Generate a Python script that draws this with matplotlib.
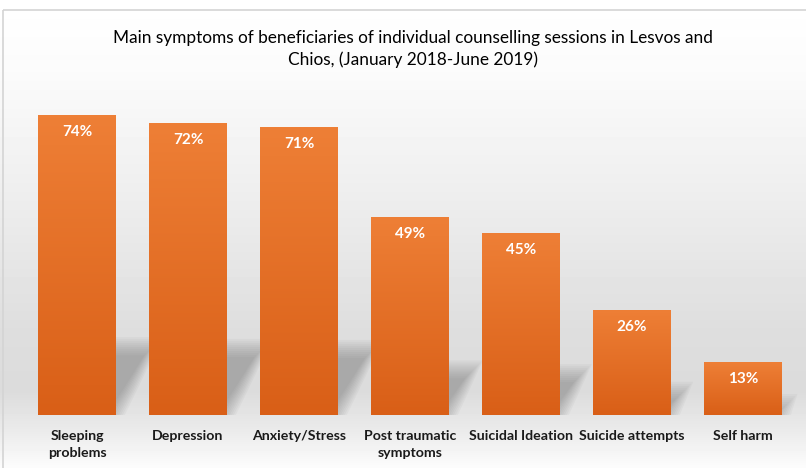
import numpy as np
import matplotlib
matplotlib.use("Agg")
import matplotlib.pyplot as plt
from matplotlib.patches import Rectangle, Polygon

categories = ["Sleeping\nproblems", "Depression", "Anxiety/Stress", "Post traumatic\nsymptoms",
              "Suicidal Ideation", "Suicide attempts", "Self harm"]
values = [74, 72, 71, 49, 45, 26, 13]
value_labels = ["74%", "72%", "71%", "49%", "45%", "26%", "13%"]
title = "Main symptoms of beneficiaries of individual counselling sessions in Lesvos and\nChios, (January 2018-June 2019)"

plt.rcParams["font.family"] = ["Lato", "DejaVu Sans"]

W, H = 806, 468
fig = plt.figure(figsize=(W / 100, H / 100), dpi=100)

# background gradient (white at top, light gray behind the bars, white at bottom)
bg = fig.add_axes([0, 0, 1, 1], zorder=0)
rows = np.arange(H)
shade = np.interp(rows, [0, 70, 200, 330, 390, 430, 468], [1.0, 0.985, 0.93, 0.87, 0.86, 0.92, 0.99])
img = np.repeat(shade[:, None], 2, axis=1)
bg.imshow(img, cmap="gray", vmin=0, vmax=1, aspect="auto", extent=[0, W, H, 0])
bg.add_patch(Rectangle((3, 10), W + 10, H, fill=False, edgecolor="#d4d4d4", lw=1.2))
bg.set_xlim(0, W)
bg.set_ylim(H, 0)
bg.axis("off")

ax = fig.add_axes([21.5 / W, 53 / H, 777 / W, 324 / H], zorder=1)
ax.patch.set_alpha(0)
x = np.arange(len(values))
width = 0.70

ax.set_xlim(-0.5, len(values) - 0.5)
ax.set_ylim(0, 80)

# pixel sizes of one data unit, used to blur the shadows
px_x = 777 / len(values)
px_y = 324 / 80

# soft cast shadows behind the bars (stacked layers to fake a blur)
for xi, v in zip(x, values):
    h = v * 0.23
    dx = h * px_y * 0.55 / px_x
    for e in np.linspace(-9, 9, 10):
        ex, ey = e / px_x, e / px_y
        shadow = Polygon([(xi - width / 2, 0), (xi + width / 2 + ex, 0),
                          (xi + width / 2 + dx + ex, h + ey),
                          (xi - width / 2 + dx, h + ey)],
                         closed=True, facecolor="#6e6e6e", edgecolor="none",
                         alpha=0.055, zorder=1)
        ax.add_patch(shadow)

# orange bars with vertical gradient
grad = np.linspace(0, 1, 100)[:, None]
cmap = matplotlib.colors.LinearSegmentedColormap.from_list("og", ["#d95f17", "#ee7f36"])
bars = ax.bar(x, values, width=width, color="#e56f25", edgecolor="none", zorder=2)
for b in bars:
    im = ax.imshow(grad, cmap=cmap, aspect="auto", origin="lower", zorder=3,
                   extent=[b.get_x(), b.get_x() + b.get_width(), 0, b.get_height()])
    im.set_clip_path(b)

for xi, v, lab in zip(x, values, value_labels):
    ax.annotate(lab, (xi, v), xytext=(0, -17), textcoords="offset pixels",
                ha="center", va="center", color="white", fontsize=11,
                fontweight="bold", zorder=4)

ax.set_xticks(x)
ax.set_xticklabels(categories, fontsize=10.2, fontweight="bold", color="#1a1a1a",
                   linespacing=1.45)
ax.tick_params(axis="x", length=0, pad=11)
ax.set_yticks([])
for s in ax.spines.values():
    s.set_visible(False)

fig.text(413 / W, 1 - 49 / H, title, ha="center", va="center", fontsize=12.4,
         color="#000000", linespacing=1.45)

fig.savefig("out.png", dpi=100)
